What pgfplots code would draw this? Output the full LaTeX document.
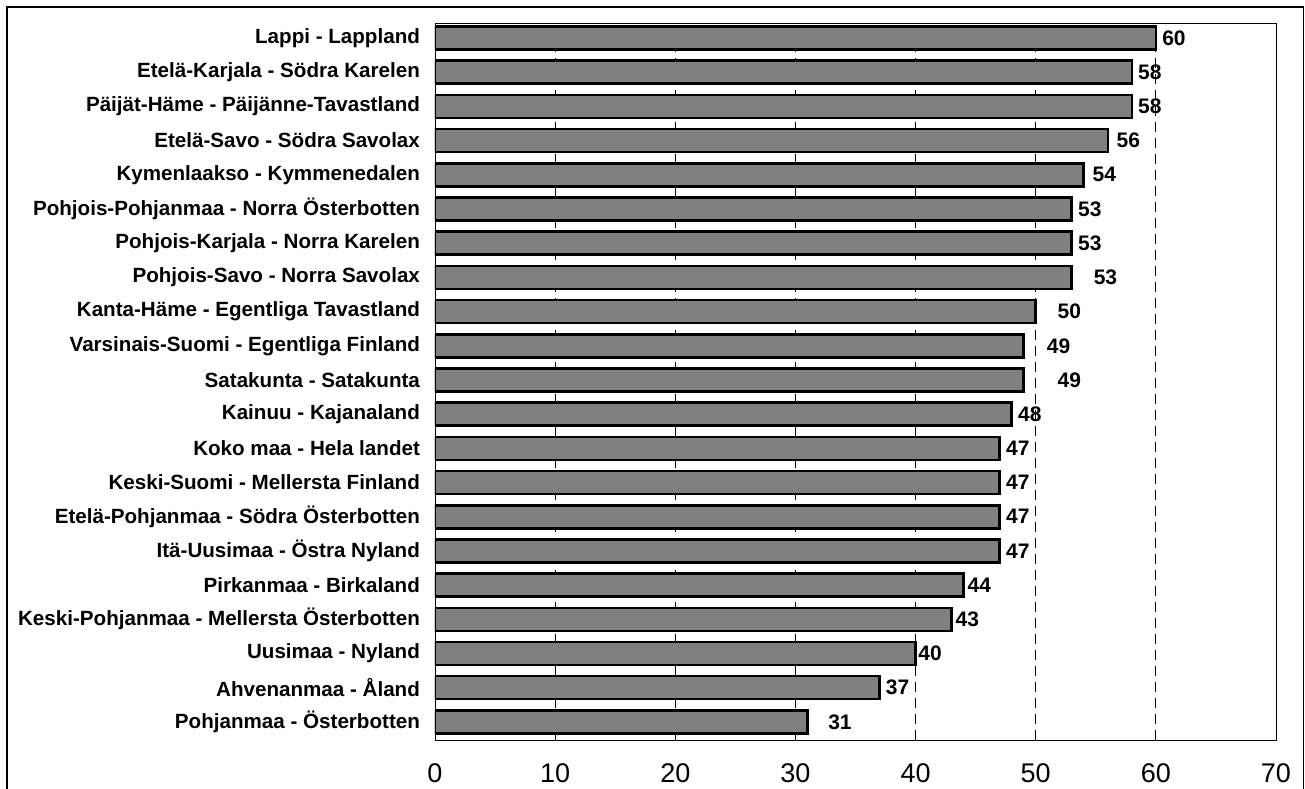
\documentclass[border=0pt]{standalone}
\usepackage{pgfplots}
\pgfplotsset{compat=1.18}
\usepackage{pgfplotstable}
\usepackage{fontspec}
\setmainfont{Liberation Sans}

% y = row (0 bottom), v = value, lx = where the value label starts
\pgfplotstableread{
y  v   lx
20 60  60.5
19 58  58.5
18 58  58.5
17 56  56.7
16 54  54.7
15 53  53.5
14 53  53.5
13 53  54.8
12 50  51.8
11 49  50.9
10 49  51.8
9  48  48.5
8  47  47.5
7  47  47.5
6  47  47.5
5  47  47.5
4  44  44.3
3  43  43.3
2  40  40.2
1  37  37.5
0  31  32.7
}\datatable

\begin{document}
\begin{tikzpicture}
\begin{axis}[
    at={(0,0)}, anchor=south west,
    scale only axis,
    width=420.5pt, height=358.5pt,
    xbar, bar width=11.5pt,
    xmin=0, xmax=70,
    ymin=-0.53, ymax=20.44,
    xtick={0,10,...,70},
    ytick={0,...,20},
    yticklabels={
        Pohjanmaa - Österbotten,
        Ahvenanmaa - Åland,
        Uusimaa - Nyland,
        Keski-Pohjanmaa - Mellersta Österbotten,
        Pirkanmaa - Birkaland,
        Itä-Uusimaa - Östra Nyland,
        Etelä-Pohjanmaa - Södra Österbotten,
        Keski-Suomi - Mellersta Finland,
        Koko maa - Hela landet,
        Kainuu - Kajanaland,
        Satakunta - Satakunta,
        Varsinais-Suomi - Egentliga Finland,
        Kanta-Häme - Egentliga Tavastland,
        Pohjois-Savo - Norra Savolax,
        Pohjois-Karjala - Norra Karelen,
        Pohjois-Pohjanmaa - Norra Österbotten,
        Kymenlaakso - Kymmenedalen,
        Etelä-Savo - Södra Savolax,
        Päijät-Häme - Päijänne-Tavastland,
        Etelä-Karjala - Södra Karelen,
        Lappi - Lappland},
    major tick length=0pt,
    xmajorgrids,
    grid style={black, thin, dash pattern=on 5pt off 3pt},
    axis line style={black, thin},
    /pgf/number format/assume math mode=true,
    xticklabel style={font=\fontsize{13.5}{15}\selectfont, anchor=north, yshift=-8.5pt},
    yticklabel style={font=\fontsize{10.3}{12}\selectfont\bfseries, anchor=east, xshift=-4pt},
]
\addplot[draw=black, line width=1.3pt, fill=black!50] table[x=v, y=y] {\datatable};
\addplot[only marks, mark=none,
    nodes near coords, point meta=explicit symbolic,
    nodes near coords style={anchor=west, inner sep=0pt, font=\fontsize{10.5}{12}\selectfont\bfseries}]
    table[x=lx, y=y, meta=v] {\datatable};
\end{axis}
\pgfresetboundingbox
\useasboundingbox (-217.5pt,-24pt) rectangle (435pt,370pt);
\draw[black, line width=0.8pt] (-214pt,-40pt) rectangle (434.3pt,366.5pt);
\end{tikzpicture}
\end{document}
